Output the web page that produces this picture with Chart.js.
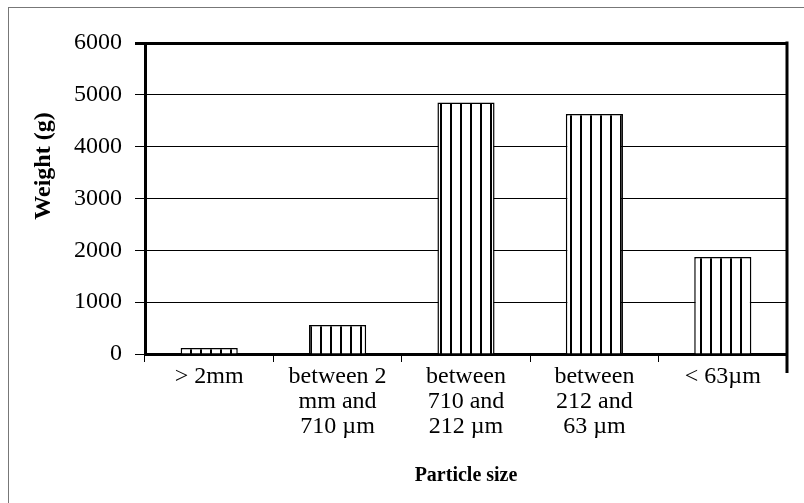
<!DOCTYPE html>
<html>
<head>
<meta charset="utf-8">
<script src="https://cdn.jsdelivr.net/npm/chart.js@4"></script>
<style>
  html, body { margin: 0; padding: 0; background: #fff; }
  #wrap { width: 804px; height: 503px; position: relative; }
</style>
</head>
<body>
<div id="wrap"><canvas id="myChart" width="804" height="503"></canvas></div>
<script>
var categories = [
  "> 2mm",
  ["between 2", "mm and", "710 \u00b5m"],
  ["between", "710 and", "212 \u00b5m"],
  ["between", "212 and", "63 \u00b5m"],
  "< 63\u00b5m"
];
var weights = [115, 560, 4850, 4630, 1870];
var yTicks = [0, 1000, 2000, 3000, 4000, 5000, 6000];
var xTitle = "Particle size";
var yTitle = "Weight (g)";

var serif = "'Liberation Serif', 'Times New Roman', serif";

// vertical stripe fill
function stripes() {
  var c = document.createElement("canvas");
  c.width = 10;
  c.height = 10;
  var g = c.getContext("2d");
  g.fillStyle = "#fff";
  g.fillRect(0, 0, 10, 10);
  g.fillStyle = "#000";
  g.fillRect(0, 0, 2, 10);
  return g.createPattern(c, "repeat");
}

var framePlugin = {
  id: "frame",
  beforeDraw: function (chart) {
    var ctx = chart.ctx;
    ctx.save();
    ctx.fillStyle = "#fff";
    ctx.fillRect(0, 0, chart.width, chart.height);
    ctx.strokeStyle = "#777";
    ctx.lineWidth = 1;
    ctx.strokeRect(8.5, 7.5, 900, 600);
    ctx.restore();
  },
  afterDraw: function (chart) {
    var ctx = chart.ctx;
    var a = chart.chartArea;
    ctx.save();
    ctx.strokeStyle = "#000";
    ctx.lineWidth = 3;
    ctx.beginPath();
    ctx.moveTo(a.right, a.top - 1.5);
    ctx.lineTo(a.right, a.bottom + 19);
    ctx.stroke();
    // y axis title
    ctx.fillStyle = "#000";
    ctx.font = "bold 24px " + serif;
    ctx.textAlign = "center";
    ctx.textBaseline = "middle";
    ctx.translate(44, 166);
    ctx.rotate(-Math.PI / 2);
    ctx.fillText(yTitle, 0, 0);
    ctx.restore();
  }
};

new Chart("myChart", {
  type: "bar",
  data: {
    labels: categories,
    datasets: [{
      data: weights,
      backgroundColor: stripes(),
      borderColor: "#000",
      borderWidth: 1.5,
      barPercentage: 0.445,
      categoryPercentage: 1
    }]
  },
  options: {
    responsive: false,
    animation: false,
    layout: { padding: { top: 43, right: 17, left: 0, bottom: 0 } },
    plugins: {
      legend: { display: false },
      tooltip: { enabled: false }
    },
    scales: {
      x: {
        offset: true,
        afterFit: function (s) { s.height = 149; },
        grid: {
          offset: true,
          drawOnChartArea: false,
          drawTicks: true,
          tickLength: 8,
          color: "#000",
          lineWidth: 1
        },
        border: { color: "#000", width: 3 },
        ticks: {
          color: "#000",
          padding: 2,
          maxRotation: 0,
          autoSkip: false,
          font: { family: serif, size: 24, lineHeight: 1.04 }
        },
        title: {
          display: true,
          text: xTitle,
          color: "#000",
          font: { family: serif, size: 20, weight: "bold" },
          padding: { top: 0, bottom: 15 }
        }
      },
      y: {
        min: 0,
        max: 6000,
        afterFit: function (s) { s.width = 145; },
        afterBuildTicks: function (s) {
          s.ticks = yTicks.map(function (v) { return { value: v }; });
        },
        grid: {
          color: "#000",
          lineWidth: function (c) { return c.tick && c.tick.value === 6000 ? 3 : 1; },
          tickLength: 10
        },
        border: { color: "#000", width: 3 },
        ticks: {
          color: "#000",
          padding: 13,
          font: { family: serif, size: 24 },
          callback: function (v) { return String(v); }
        }
      }
    }
  },
  plugins: [framePlugin]
});
</script>
</body>
</html>
